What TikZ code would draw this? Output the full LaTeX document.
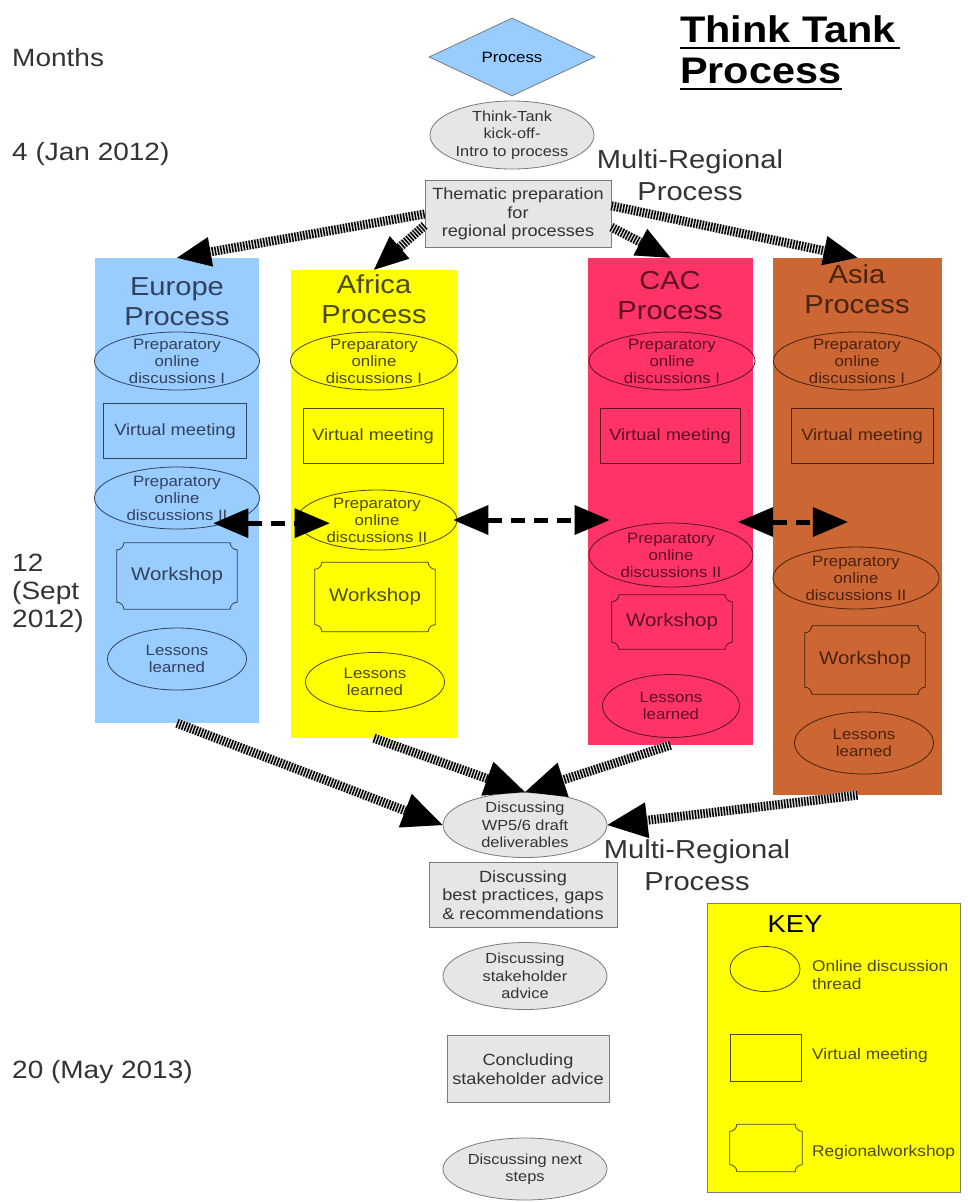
\documentclass[tikz,border=0pt]{standalone}
\usepackage{fontspec}
\setmainfont{Liberation Sans}[FakeStretch=1.12]
\usetikzlibrary{arrows.meta,positioning,shapes.geometric,calc}
\definecolor{TTEurope}{HTML}{99CCFF}
\definecolor{TTAfrica}{HTML}{FFFF00}
\definecolor{TTCac}{HTML}{FF3366}
\definecolor{TTAsia}{HTML}{CC6633}
\definecolor{TTGrey}{HTML}{E6E6E6}
\definecolor{TTLine}{HTML}{7A7A7A}
\definecolor{TTInk}{HTML}{333333}
\definecolor{EuInk}{HTML}{33415C}
\definecolor{AfInk}{HTML}{4A4A10}
\definecolor{CaInk}{HTML}{5C1024}
\definecolor{AsInk}{HTML}{4A2210}
\newcommand\ttsize[2]{\fontsize{#1}{#2}\selectfont}

\begin{document}
\begin{tikzpicture}[x=1pt,y=-1pt]
  \tikzset{col/.style={fill=#1,inner sep=0pt},
    coltitle/.style={anchor=north,inner sep=0pt,align=center,font=\ttsize{26}{30.5},text=#1},
    disc/.style={ellipse,draw=#1,text=#1,line width=0.8pt,inner xsep=0pt,inner ysep=-6pt,
      align=center,font=\ttsize{15}{17}},
    vmeet/.style={draw=#1,text=#1,line width=0.8pt,minimum width=141pt,minimum height=55pt,
      font=\ttsize{16.3}{19}},
    wshop/.style={text=#1,minimum width=120pt,font=\ttsize{18.3}{20}},
    grey/.style={draw=TTLine,fill=TTGrey,text=TTInk,line width=0.8pt,align=center},
    greyell/.style={grey,ellipse,inner xsep=0pt,inner ysep=-6pt,minimum width=164pt,
      font=\ttsize{14.6}{17.5}},
    greybox/.style={grey,inner sep=2pt,font=\ttsize{16.2}{18.5}},
    side/.style={inner sep=0pt,font=\ttsize{25}{28},text=TTInk},
    multi/.style={anchor=north,inner sep=0pt,align=center,font=\ttsize{26}{32},text=TTInk},
    keytext/.style={anchor=west,inner sep=0pt,align=left,text=AfInk,font=\ttsize{15.5}{18}},
    hatch/.style={line width=9pt,black,dash pattern=on 1.5pt off 1.4pt,
      preaction={draw,black!12,solid,line width=9pt},
      -{Triangle[length=34pt,width=30pt,line width=0pt]}},
    bighatch/.style={hatch,-{Triangle[length=40pt,width=36pt,line width=0pt]}},
    dashlink/.style={line width=5pt,black,dash pattern=on 14pt off 9pt,
      {Triangle[length=35pt,width=30pt,line width=0pt]}-{Triangle[length=35pt,width=30pt,line width=0pt]}}}
  \useasboundingbox (0,0) rectangle (968,1202);

  % months axis
  \node[side,anchor=base west] (m4) at (12,66) {Months};
  \node[side,anchor=base west] (m4jan) at (12,160) {4 (Jan 2012)};
  \node[side,anchor=north west,align=left] (m12) at (12,554) {12\\(Sept\\2012)};
  \node[side,anchor=base west] (m20) at (12,1078) {20 (May 2013)};

  % title
  \node[inner sep=0pt,anchor=base west,font=\ttsize{37}{42}\bfseries] (title1) at (680,42) {Think Tank};
  \node[inner sep=0pt,anchor=base west,font=\ttsize{37}{42}\bfseries] (title2) at (680,83) {Process};
  \draw[line width=2.5pt] ([yshift=-6pt]title1.base west) -- ([yshift=-6pt,xshift=4pt]title1.base east);
  \draw[line width=2.5pt] ([yshift=-6pt]title2.base west) -- ([yshift=-6pt]title2.base east);

  % multi-regional start
  \node[diamond,draw=TTLine,fill=TTEurope,line width=0.8pt,inner sep=0pt,minimum width=166pt,
    minimum height=78pt,font=\ttsize{15}{17}] (start) at (512,57) {Process};
  \node[greyell,minimum height=68pt] (kick) at (512,135) {Think-Tank\\kick-off-\\Intro to process};
  \node[greybox,minimum width=186pt,minimum height=67pt] (th) at (518,214) {Thematic preparation\\for\\regional processes};
  \node[multi] (mr1) at (690,149) {Multi-Regional\\Process};

  % regional columns
  \node[col=TTEurope,minimum width=164pt,minimum height=465pt] (eu) at (177,490.5) {};
  \node[col=TTAfrica,minimum width=166pt,minimum height=468pt] (af) at (374,504) {};
  \node[col=TTCac,minimum width=165pt,minimum height=487pt] (ca) at (670.5,501.5) {};
  \node[col=TTAsia,minimum width=169pt,minimum height=537pt] (as) at (857.5,526.5) {};

  \node[coltitle=EuInk] (eu-title) at (177,277) {Europe\\Process};
  \node[coltitle=AfInk] (af-title) at (374,274) {Africa\\Process};
  \node[coltitle=CaInk] (ca-title) at (670,271) {CAC\\Process};
  \node[coltitle=AsInk] (as-title) at (857,264) {Asia\\Process};

  % Europe
  \node[disc=EuInk,minimum width=165pt,minimum height=58pt] (eu-d1) at (177,361) {Preparatory\\online\\discussions I};
  \node[vmeet=EuInk,minimum width=143pt] (eu-vm) at (175,431) {Virtual meeting};
  \node[disc=EuInk,minimum width=165pt,minimum height=62pt] (eu-d2) at (177,498) {Preparatory\\online\\discussions II};
  \node[wshop=EuInk,minimum height=66pt] (eu-ws) at (177,576) {Workshop};
  \node[disc=EuInk,minimum width=139pt,minimum height=62pt] (eu-ll) at (177,659) {Lessons\\learned};

  % Africa
  \node[disc=AfInk,minimum width=167pt,minimum height=58pt] (af-d1) at (374,361) {Preparatory\\online\\discussions I};
  \node[vmeet=AfInk,minimum width=140pt] (af-vm) at (373,436) {Virtual meeting};
  \node[disc=AfInk,minimum width=160pt,minimum height=60pt] (af-d2) at (377,520) {Preparatory\\online\\discussions II};
  \node[wshop=AfInk,minimum height=69pt] (af-ws) at (375,597) {Workshop};
  \node[disc=AfInk,minimum width=139pt,minimum height=59pt] (af-ll) at (375,682) {Lessons\\learned};

  % CAC
  \node[disc=CaInk,minimum width=166pt,minimum height=58pt] (ca-d1) at (672,361) {Preparatory\\online\\discussions I};
  \node[vmeet=CaInk,minimum width=140pt] (ca-vm) at (670,436) {Virtual meeting};
  \node[disc=CaInk,minimum width=164pt,minimum height=64pt] (ca-d2) at (671,555) {Preparatory\\online\\discussions II};
  \node[wshop=CaInk,minimum height=54pt] (ca-ws) at (672,622) {Workshop};
  \node[disc=CaInk,minimum width=137pt,minimum height=63pt] (ca-ll) at (671,706) {Lessons\\learned};

  % Asia
  \node[disc=AsInk,minimum width=167pt,minimum height=58pt] (as-d1) at (857,361) {Preparatory\\online\\discussions I};
  \node[vmeet=AsInk,minimum width=142pt] (as-vm) at (862,436) {Virtual meeting};
  \node[disc=AsInk,minimum width=166pt,minimum height=62pt] (as-d2) at (856,578) {Preparatory\\online\\discussions II};
  \node[wshop=AsInk,minimum height=68pt] (as-ws) at (865,660) {Workshop};
  \node[disc=AsInk,minimum width=139pt,minimum height=62pt] (as-ll) at (864,743) {Lessons\\learned};

  % multi-regional end
  \node[greyell,minimum height=65pt] (wp) at (525,825) {Discussing\\WP5/6 draft\\deliverables};
  \node[multi] (mr2) at (697,839) {Multi-Regional\\Process};
  \node[greybox,minimum width=188pt,minimum height=65pt] (bp) at (523,895) {Discussing\\best practices, gaps\\\& recommendations};
  \node[greyell,minimum height=67pt] (sa) at (525,976) {Discussing\\stakeholder\\advice};
  \node[greybox,minimum width=162pt,minimum height=67pt] (cs) at (528,1069) {Concluding\\stakeholder advice};
  \node[greyell,minimum height=62pt] (ns) at (525,1169) {Discussing next\\steps};

  % key
  \node[draw=TTLine,fill=TTAfrica,line width=0.8pt,minimum width=253pt,minimum height=289pt] (key) at (833.5,1047.5) {};
  \node[inner sep=0pt,text=black,font=\ttsize{24.5}{28}] (key-title) at (795,924) {KEY};
  \node[ellipse,draw=AfInk,line width=0.8pt,inner sep=0pt,minimum width=70pt,minimum height=45pt] (key-d) at (765,969) {};
  \node[keytext] (key-dt) at (812,975) {Online discussion\\thread};
  \node[draw=AfInk,line width=0.8pt,minimum width=71pt,minimum height=47pt] (key-vm) at (766,1058) {};
  \node[keytext] (key-vmt) at (812,1055) {Virtual meeting};
  \node[minimum width=72pt,minimum height=47pt] (key-ws) at (766,1148) {};
  \node[keytext] (key-wst) at (812,1152) {Regionalworkshop};

  % workshop outlines with notched corners
  \foreach \w/\c in {eu-ws/EuInk,af-ws/AfInk,ca-ws/CaInk,as-ws/AsInk,key-ws/AfInk}
    \draw[draw=\c,line width=0.8pt] ([xshift=7pt]\w.north west) -- ([xshift=-7pt]\w.north east) arc(180:90:7)
      -- ([yshift=7pt]\w.south east) arc(270:180:7) -- ([xshift=7pt]\w.south west) arc(0:-90:7)
      -- ([yshift=-7pt]\w.north west) arc(90:0:7) -- cycle;

  % flows
  \draw[hatch] (th.west) -- (eu.north);
  \draw[hatch] (th.187) -- (af.north);
  \draw[hatch] (th.-8) -- (ca.north);
  \draw[hatch] (th.5) -- (as.north);
  \draw[bighatch] (eu.south) -- (wp.west);
  \draw[bighatch] (af.south) -- (wp.north);
  \draw[bighatch] (ca.south) -- (wp.north);
  \draw[bighatch] (as.south) -- (wp.east);

  % exchanges between regions
  \draw[dashlink,shorten <=-13pt,shorten >=-33pt] (eu-d2.-27) -- (af-d2.west |- eu-d2.-27);
  \draw[dashlink,shorten <=-4pt,shorten >=-21pt] (af-d2.east) -- (ca-d2.west |- af-d2.east);
  \draw[dashlink] ($(ca.east |- af-d2.east)+(-15,2)$) -- ($(as.west |- af-d2.east)+(75,2)$);
\end{tikzpicture}
\end{document}
